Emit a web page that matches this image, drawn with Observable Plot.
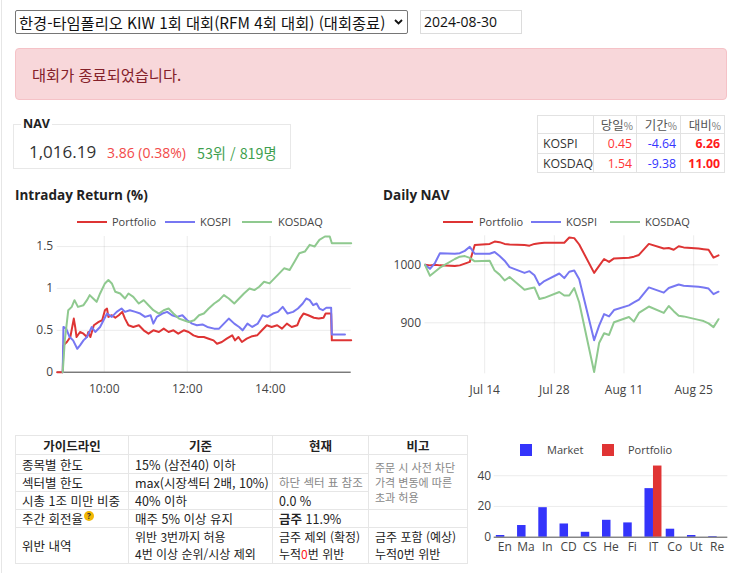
<!DOCTYPE html>
<html lang="ko"><head><meta charset="utf-8">
<script src="https://cdn.jsdelivr.net/npm/d3@7"></script>
<script src="https://cdn.jsdelivr.net/npm/@observablehq/plot@0.6"></script>
<style>
html,body{margin:0;padding:0;background:#fff}
body{position:relative;width:743px;height:573px;overflow:hidden;font-family:"Noto Sans CJK KR","Noto Sans",sans-serif;color:#212529}
.a{position:absolute}
.leftline{left:1px;top:0;width:1px;height:573px;background:#e6e6e6}
.sel{left:15px;top:10px;width:393px;height:24px;border:1px solid #767676;border-radius:2px;box-sizing:border-box;font-size:15.3px;line-height:22px;padding-left:3px;color:#111;white-space:nowrap}
.date{left:420px;top:10px;width:102px;height:24px;border:1px solid #dcdcdc;box-sizing:border-box;font-family:"Open Sans";font-size:14px;line-height:22px;padding-left:3px;color:#111}
.alert{left:15px;top:48px;width:712px;height:52px;background:#f8d7da;border:1px solid #f5c2c7;border-radius:4px;box-sizing:border-box;font-size:15.3px;line-height:50px;padding-left:16px;color:#842029}
.navbox{left:13px;top:124px;width:278px;height:45px;border:1px solid #e8e8e8;box-sizing:border-box}
.navlab{left:21px;top:116px;padding:0 2px;background:#fff;font-family:"Open Sans";font-weight:700;font-size:12.5px;line-height:16px;color:#222}
.navval{left:29px;top:141px;font-family:"Open Sans";font-size:17px;line-height:22px;color:#333;white-space:nowrap}
.navchg{left:107px;top:143px;font-family:"Open Sans";font-size:14px;line-height:20px;color:#f24a4a;white-space:nowrap}
.navrank{left:197px;top:143px;font-size:14.3px;line-height:20px;color:#3f9f4f;white-space:nowrap}
table.idx{border-collapse:collapse;table-layout:fixed;font-family:"Open Sans";font-size:12.3px;color:#333}
table.idx td,table.idx th{border:1px solid #e2e2e2;padding:0 4px 0 3px;white-space:nowrap;line-height:15px}
table.idx th{font-family:"Noto Sans CJK KR";font-weight:400;color:#555;text-align:right;font-size:12.5px;padding:0 3px 0 0}
table.idx th small{font-size:10px;color:#777}
.ctitle{font-family:"Open Sans";font-weight:700;font-size:13.5px;color:#222;white-space:nowrap}
.leg{font-family:"Open Sans";font-size:11px;color:#444;white-space:nowrap;line-height:14px}
table.guide{border-collapse:collapse;table-layout:fixed;font-size:12.5px;color:#222}
table.guide td,table.guide th{border:1px solid #e6e6e6;padding:0 0 0 6px;white-space:nowrap;overflow:hidden;line-height:15px}
table.guide th{font-weight:700;text-align:center;padding:0}
table.guide tr.two td{font-size:12px;line-height:17.4px}
.gray{color:#888;font-size:11.5px}
td.note{font-size:11px;line-height:16px;white-space:normal}
.q{display:inline-block;width:10px;height:10px;border-radius:5px;background:#f2b705;color:#333;font-size:8px;line-height:10px;text-align:center;font-weight:700;vertical-align:top;margin-left:1px;font-family:"Open Sans"}
</style></head>
<body>
<div class="a leftline"></div>
<div class="a sel" id="sel"></div>
<svg class="a" style="left:393px;top:17px" width="12" height="10"><polyline points="2,3 5.5,6.5 9,3" fill="none" stroke="#111" stroke-width="1.8"/></svg>
<div class="a date" id="date"></div>
<div class="a alert">대회가 종료되었습니다.</div>

<div class="a navbox"></div>
<div class="a navlab">NAV</div>
<div class="a navval" id="navval"></div>
<div class="a navchg" id="navchg"></div>
<div class="a navrank" id="navrank"></div>

<table class="a idx" id="idx" style="left:537px;top:115px;width:187px"></table>

<div class="a ctitle" style="left:15px;top:186px">Intraday Return (%)</div>
<div class="a ctitle" style="left:383px;top:186px">Daily NAV</div>
<div id="leg1"></div><div id="leg2"></div>
<div class="a" id="intraday" style="left:0;top:230px"></div>
<div class="a" id="daily" style="left:372px;top:230px"></div>

<table class="a guide" style="left:15px;top:435px;width:452px">
<colgroup><col style="width:113px"><col style="width:144px"><col style="width:96px"><col style="width:99px"></colgroup>
<tr style="height:19px"><th>가이드라인</th><th>기준</th><th>현재</th><th>비고</th></tr>
<tr style="height:19px"><td>종목별 한도</td><td>15% (삼전40) 이하</td><td></td><td rowspan="3" class="gray note">주문 시 사전 차단<br>가격 변동에 따른<br>초과 허용</td></tr>
<tr style="height:18px"><td>섹터별 한도</td><td>max(시장섹터 2배, 10%)</td><td class="gray">하단 섹터 표 참조</td></tr>
<tr style="height:18px"><td>시총 1조 미만 비중</td><td>40% 이하</td><td>0.0 %</td></tr>
<tr style="height:18px"><td>주간 회전율<span class="q">?</span></td><td>매주 5% 이상 유지</td><td><b style="font-weight:600">금주</b> 11.9%</td><td></td></tr>
<tr class="two" style="height:35px"><td style="font-size:12.5px">위반 내역</td><td>위반 3번까지 허용<br>4번 이상 순위/시상 제외</td><td>금주 제외 (확정)<br>누적<span style="color:#ff2020">0</span>번 위반</td><td>금주 포함 (예상)<br>누적0번 위반</td></tr>
</table>

<div id="leg3"></div>
<div class="a" id="bars" style="left:470px;top:455px"></div>

<script>
// ---------- data ----------
const competitionName = "한경-타임폴리오 KIW 1회 대회(RFM 4회 대회) (대회종료)";
const asOfDate = "2024-08-30";
const navValue = 1016.19;
const navChange = 3.86;
const navChangePct = 0.38;
const navRank = 53;
const navParticipants = 819;

const indexNames = ["KOSPI", "KOSDAQ"];
const indexDaily = [0.45, 1.54];
const indexPeriod = [-4.64, -9.38];
const indexRelative = [6.26, 11.00];
const indexHeaders = ["당일", "기간", "대비"];

const seriesNames = ["Portfolio", "KOSPI", "KOSDAQ"];

const intradayPortfolio = [["08:52",0],["09:00",0],["09:01",0.32],["09:06",0.36],["09:11",0.42],["09:16",0.64],["09:18",0.54],["09:20",0.42],["09:25",0.48],["09:30",0.46],["09:35",0.42],["09:37",0.48],["09:40",0.42],["09:45",0.56],["09:52",0.60],["09:57",0.62],["10:01",0.74],["10:04",0.76],["10:06",0.66],["10:11",0.68],["10:16",0.65],["10:21",0.68],["10:26",0.72],["10:30",0.64],["10:35",0.56],["10:42",0.54],["10:50",0.56],["10:57",0.50],["11:04",0.46],["11:11",0.50],["11:19",0.48],["11:26",0.52],["11:33",0.48],["11:40",0.50],["11:47",0.46],["11:55",0.50],["12:02",0.48],["12:09",0.44],["12:16",0.42],["12:24",0.42],["12:31",0.40],["12:38",0.38],["12:43",0.34],["12:50",0.36],["12:57",0.40],["13:05",0.44],["13:09",0.38],["13:14",0.42],["13:19",0.36],["13:26",0.40],["13:34",0.43],["13:41",0.44],["13:48",0.50],["13:55",0.56],["14:02",0.54],["14:10",0.56],["14:17",0.52],["14:24",0.58],["14:31",0.54],["14:39",0.56],["14:43",0.64],["14:48",0.70],["14:55",0.68],["15:03",0.65],["15:10",0.64],["15:17",0.65],["15:20",0.70],["15:28",0.70],["15:29",0.38],["15:57",0.38]];
const intradayKospi = [["09:00",0],["09:01",0.54],["09:05",0.52],["09:10",0.42],["09:15",0.38],["09:21",0.28],["09:25",0.32],["09:30",0.38],["09:35",0.42],["09:42",0.54],["09:47",0.48],["09:54",0.54],["09:59",0.62],["10:04",0.70],["10:11",0.66],["10:18",0.72],["10:25",0.76],["10:30",0.72],["10:37",0.74],["10:45",0.72],["10:52",0.70],["10:59",0.66],["11:07",0.68],["11:11",0.58],["11:16",0.66],["11:24",0.70],["11:31",0.72],["11:38",0.68],["11:45",0.66],["11:53",0.68],["12:00",0.62],["12:07",0.58],["12:14",0.56],["12:22",0.57],["12:29",0.54],["12:39",0.52],["12:46",0.52],["12:53",0.58],["13:00",0.64],["13:08",0.58],["13:15",0.54],["13:20",0.50],["13:27",0.58],["13:34",0.54],["13:42",0.58],["13:49",0.68],["13:56",0.66],["14:04",0.70],["14:11",0.72],["14:18",0.78],["14:25",0.70],["14:33",0.72],["14:40",0.76],["14:47",0.82],["14:52",0.88],["14:57",0.86],["15:02",0.80],["15:07",0.82],["15:11",0.76],["15:16",0.74],["15:21",0.77],["15:28",0.77],["15:29",0.45],["15:48",0.45]];
const intradayKosdaq = [["09:00",0],["09:03",0.38],["09:08",0.74],["09:13",0.78],["09:17",0.86],["09:22",0.78],["09:30",0.80],["09:35",0.86],["09:39",0.92],["09:44",0.88],["09:49",0.84],["09:54",0.94],["10:01",1.06],["10:06",1.10],["10:11",1.06],["10:16",0.96],["10:23",0.94],["10:30",0.88],["10:35",0.94],["10:42",0.90],["10:50",0.82],["10:57",0.86],["11:04",0.80],["11:11",0.74],["11:19",0.70],["11:26",0.74],["11:33",0.76],["11:40",0.70],["11:48",0.64],["11:55",0.62],["12:02",0.60],["12:10",0.62],["12:17",0.68],["12:24",0.70],["12:31",0.76],["12:39",0.82],["12:46",0.86],["12:53",0.92],["13:00",0.88],["13:08",0.82],["13:15",0.88],["13:22",0.94],["13:30",1.00],["13:37",0.98],["13:44",1.02],["13:51",1.08],["13:59",1.06],["14:06",1.12],["14:13",1.18],["14:20",1.24],["14:28",1.22],["14:35",1.32],["14:42",1.42],["14:50",1.44],["14:57",1.52],["15:04",1.50],["15:11",1.58],["15:19",1.62],["15:26",1.62],["15:29",1.54],["15:57",1.54]];
const intradayXTicks = ["10:00", "12:00", "14:00"];
const intradayYTicks = [0, 0.5, 1, 1.5];

const navDates = ["2024-07-02","2024-07-03","2024-07-04","2024-07-05","2024-07-08","2024-07-09","2024-07-10","2024-07-11","2024-07-12","2024-07-15","2024-07-16","2024-07-17","2024-07-18","2024-07-19","2024-07-22","2024-07-23","2024-07-24","2024-07-25","2024-07-26","2024-07-29","2024-07-30","2024-07-31","2024-08-01","2024-08-02","2024-08-05","2024-08-06","2024-08-07","2024-08-08","2024-08-09","2024-08-12","2024-08-13","2024-08-14","2024-08-16","2024-08-19","2024-08-20","2024-08-21","2024-08-22","2024-08-23","2024-08-26","2024-08-27","2024-08-28","2024-08-29","2024-08-30"];
const navPortfolio = [1000,999,1000,999,998,999,1002,1005,1034,1036,1040,1039,1036,1035,1034,1033,1036,1037,1038,1038,1038,1047,1046,1035,986,998,1010,1005,1011,1012,1014,1017,1036,1028,1029,1026,1032,1030,1028,1027,1026,1012.33,1016.19];
const navKospi = [1000,993,1003,1020,1019,1020,1024,1031,1019,1019,1022,1015,1007,996,986,989,982,965,972,985,977,988,990,975,870,895,915,911,922,930,935,940,961,952,960,963,966,964,962,961,959,949.3,953.6];
const navKosdaq = [1000,981,988,995,1010,1014,1015,1012,1006,1007,990,983,973,979,957,959,961,941,943,953,947,947,960,935,815,865,882,879,901,910,902,917,928,917,929,920,912,911,905,903,899,892.5,906.2];
const navXTicks = ["2024-07-14", "2024-07-28", "2024-08-11", "2024-08-25"];
const navYTicks = [900, 1000];

const sectorCodes = ["En","Ma","In","CD","CS","He","Fi","IT","Co","Ut","Re"];
const sectorMarket = [1.1, 7.6, 19.2, 8.6, 3.2, 11.0, 9.3, 31.6, 5.2, 1.1, 0.4];
const sectorPortfolio = [0, 0, 0, 0, 0, 0, 0, 46.3, 0, 0, 0];
const sectorSeries = ["Market", "Portfolio"];
const sectorYTicks = [0, 20, 40];

// ---------- styles ----------
const lineColors = ["#de3434", "#7777f2", "#8fc98f"];
const barColors = ["#3434fb", "#e03434"];
const axisStyle = {fontFamily: "Open Sans", fontSize: "12px", color: "#444", background: "transparent", overflow: "visible"};

// ---------- header widgets ----------
document.getElementById("sel").textContent = competitionName;
document.getElementById("date").textContent = asOfDate;
document.getElementById("navval").textContent = d3.format(",.2f")(navValue);
document.getElementById("navchg").textContent = `${navChange.toFixed(2)} (${navChangePct.toFixed(2)}%)`;
document.getElementById("navrank").textContent = `${navRank}위 / ${navParticipants}명`;

const idx = d3.select("#idx");
const colW = [56, 43, 44, 44];
const rowH = [17, 19, 18];
const cg = idx.append("colgroup");
colW.forEach(w => cg.append("col").style("width", w + "px"));
const hr = idx.append("tr");
hr.append("th").style("height", rowH[0] + "px");
indexHeaders.forEach(h => hr.append("th").html(`${h}<small>%</small>`));
indexNames.forEach((n, i) => {
  const tr = idx.append("tr");
  tr.append("td").style("height", rowH[i + 1] + "px").style("padding-left", "5px").text(n);
  tr.append("td").style("text-align", "right").style("color", indexDaily[i] >= 0 ? "#ff3535" : "#3535ff").text(indexDaily[i].toFixed(2));
  tr.append("td").style("text-align", "right").style("color", indexPeriod[i] >= 0 ? "#ff3535" : "#3535ff").text(indexPeriod[i].toFixed(2));
  tr.append("td").style("text-align", "right").style("color", indexRelative[i] >= 0 ? "#ff1a1a" : "#3535ff").style("font-weight", "700").text(indexRelative[i].toFixed(2));
});

// ---------- legends ----------
function lineLegend(id, lineX, textX) {
  const root = d3.select("#" + id);
  seriesNames.forEach((s, i) => {
    root.append("div").attr("class", "a").style("left", lineX[i] + "px").style("top", "221px")
      .style("width", "30px").style("height", "2px").style("background", lineColors[i]);
    root.append("div").attr("class", "a leg").style("left", textX[i] + "px").style("top", "215px").text(s);
  });
}
lineLegend("leg1", [77, 165, 242], [112, 200, 278]);
lineLegend("leg2", [443, 531, 610], [479, 566, 645]);
{
  const root = d3.select("#leg3");
  const sqX = [520, 602], txX = [547, 628];
  sectorSeries.forEach((s, i) => {
    root.append("div").attr("class", "a").style("left", sqX[i] + "px").style("top", "444px")
      .style("width", "12px").style("height", "12px").style("background", barColors[i]);
    root.append("div").attr("class", "a leg").style("left", txX[i] + "px").style("top", "443px").text(s);
  });
}

// ---------- intraday chart ----------
const parseT = t => new Date(`2024-08-30T${t}:00Z`);
const intradaySets = [intradayPortfolio, intradayKospi, intradayKosdaq];
const intradayRows = intradaySets.flatMap((pts, i) => pts.map(([t, v]) => ({series: seriesNames[i], time: parseT(t), value: v})));

const intraday = Plot.plot({
  width: 372, height: 170,
  marginLeft: 56.7, marginRight: 21.3, marginTop: 6, marginBottom: 28.3,
  style: axisStyle,
  x: {type: "utc", domain: d3.extent(intradayRows, d => d.time), ticks: intradayXTicks.map(parseT),
      tickFormat: d3.utcFormat("%H:%M"), tickSize: 0, tickPadding: 12, label: null, grid: true},
  y: {domain: [0, 1.62], ticks: intradayYTicks, tickFormat: d => String(d), tickSize: 0, tickPadding: 4, label: null, grid: true},
  color: {domain: seriesNames, range: lineColors},
  marks: [
    Plot.ruleY([0], {stroke: "#444", strokeWidth: 1}),
    Plot.line(intradayRows, {x: "time", y: "value", z: "series", stroke: "series", strokeWidth: 2, strokeLinejoin: "round"})
  ]
});
document.getElementById("intraday").append(intraday);

// ---------- daily NAV chart ----------
const navSets = [navPortfolio, navKospi, navKosdaq];
const navRows = navSets.flatMap((vals, i) => vals.map((v, j) => ({series: seriesNames[i], date: new Date(navDates[j]), value: v})));
const daily = Plot.plot({
  width: 371, height: 170,
  marginLeft: 52.5, marginRight: 25, marginTop: 5.3, marginBottom: 26.7,
  style: axisStyle,
  x: {type: "utc", domain: d3.extent(navRows, d => d.date), ticks: navXTicks.map(d => new Date(d)),
      tickFormat: d3.utcFormat("%b %d"), tickSize: 0, tickPadding: 12, label: null, grid: true},
  y: {domain: [812, 1050], ticks: navYTicks, tickFormat: d => String(d), tickSize: 0, tickPadding: 4, label: null, grid: true},
  color: {domain: seriesNames, range: lineColors},
  marks: [
    Plot.line(navRows, {x: "date", y: "value", z: "series", stroke: "series", strokeWidth: 2, strokeLinejoin: "round"})
  ]
});
document.getElementById("daily").append(daily);

// ---------- sector bar chart ----------
const sectorRows = sectorCodes.flatMap((c, i) => [
  {cat: c, series: sectorSeries[0], value: sectorMarket[i]},
  {cat: c, series: sectorSeries[1], value: sectorPortfolio[i]}
]);
const barW = 273, barML = 23.7, barMR = 15.7;
const halfGroup = (barW - barML - barMR) / sectorCodes.length * 0.8 / 2;  // half of each category's bar group
const bars = Plot.plot({
  width: barW, height: 105,
  marginLeft: barML, marginRight: barMR, marginTop: 7, marginBottom: 23.3,
  style: axisStyle,
  x: {domain: sectorCodes, paddingInner: 0.2, paddingOuter: 0.1, round: false, tickSize: 0, tickPadding: 5, label: null},
  y: {domain: [0, 48.6], ticks: sectorYTicks, tickSize: 0, tickPadding: 3, label: null, grid: true},
  color: {domain: sectorSeries, range: barColors},
  marks: [
    Plot.barY(sectorRows.filter(d => d.series === sectorSeries[0]), {x: "cat", y: "value", fill: "series", insetRight: halfGroup}),
    Plot.barY(sectorRows.filter(d => d.series === sectorSeries[1]), {x: "cat", y: "value", fill: "series", insetLeft: halfGroup}),
    Plot.ruleY([0], {stroke: "#555"})
  ]
});
document.getElementById("bars").append(bars);
</script>
</body></html>
